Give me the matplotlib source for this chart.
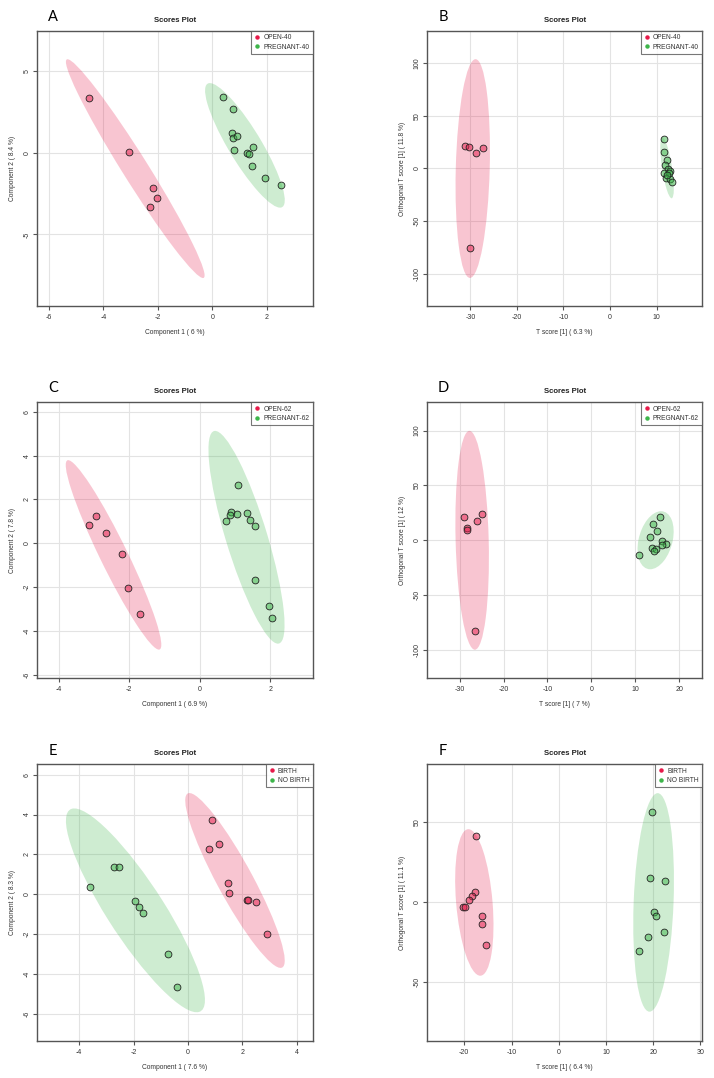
import numpy as np
import matplotlib
matplotlib.use("Agg")
import matplotlib.pyplot as plt
from matplotlib.patches import Ellipse
from matplotlib.lines import Line2D

plt.rcParams['font.family'] = ['Liberation Sans', 'DejaVu Sans']
plt.rcParams['axes.unicode_minus'] = False

# ---------------- data ----------------
# Panel A (PLS-DA, day 40)
a_open_x = [-4.55, -3.08, -2.20, -2.03, -2.31]
a_open_y = [3.34, 0.04, -2.18, -2.77, -3.32]
a_preg_x = [0.40, 0.76, 0.73, 0.75, 0.89, 0.80, 1.26, 1.33, 1.50, 1.44, 1.93, 2.51]
a_preg_y = [3.38, 2.67, 1.20, 0.92, 1.02, 0.16, -0.04, -0.06, 0.37, -0.79, -1.53, -1.98]
# Panel B (OPLS-DA, day 40)
b_open_x = [-31.2, -30.2, -28.7, -27.3, -30.0]
b_open_y = [21.2, 20.0, 14.9, 19.0, -76.1]
b_preg_x = [11.5, 11.5, 12.15, 11.8, 12.5, 12.9, 11.5, 12.65, 12.0, 12.85, 13.2, 12.3]
b_preg_y = [27.6, 15.5, 7.9, 3.5, -0.6, -2.25, -4.7, -4.15, -8.9, -10.1, -13.3, -6.6]
# Panel C (PLS-DA, day 62)
c_open_x = [-3.14, -2.94, -2.65, -2.22, -2.03, -1.71]
c_open_y = [0.85, 1.25, 0.47, -0.47, -2.05, -3.21]
c_preg_x = [1.08, 0.89, 0.86, 1.05, 0.74, 1.35, 1.43, 1.57, 1.57, 1.96, 2.05]
c_preg_y = [2.67, 1.41, 1.31, 1.32, 1.03, 1.40, 1.06, 0.81, -1.69, -2.86, -3.42]
# Panel D (OPLS-DA, day 62)
d_open_x = [-29.0, -28.2, -28.2, -26.0, -25.0, -26.4]
d_open_y = [20.7, 11.0, 9.1, 17.4, 23.4, -82.8]
d_preg_x = [15.5, 14.0, 15.0, 13.4, 16.0, 17.0, 16.1, 13.7, 14.7, 14.2, 10.8]
d_preg_y = [20.7, 14.6, 8.5, 3.0, -0.9, -3.7, -4.9, -7.0, -8.5, -9.7, -14.0]
# Panel E (PLS-DA, birth)
e_birth_x = [0.89, 1.13, 0.78, 1.45, 1.50, 2.18, 2.21, 2.48, 2.90]
e_birth_y = [3.75, 2.51, 2.26, 0.59, 0.05, -0.28, -0.28, -0.38, -1.97]
e_nob_x = [-3.62, -2.73, -2.52, -1.96, -1.81, -1.67, -0.74, -0.42]
e_nob_y = [0.37, 1.37, 1.37, -0.35, -0.62, -0.95, -2.99, -4.63]
# Panel F (OPLS-DA, birth)
f_birth_x = [-17.6, -17.7, -18.4, -18.9, -20.3, -19.9, -16.3, -16.3, -15.5]
f_birth_y = [41.7, 6.7, 4.0, 1.5, -2.7, -3.1, -8.3, -13.75, -26.9]
f_nob_x = [19.7, 19.4, 22.5, 20.1, 20.6, 22.3, 19.0, 17.1]
f_nob_y = [56.5, 15.0, 13.5, -6.25, -8.75, -18.5, -21.9, -30.2]

panel_letters = ["A", "B", "C", "D", "E", "F"]
group_labels = [["OPEN-40", "PREGNANT-40"], ["OPEN-40", "PREGNANT-40"],
                ["OPEN-62", "PREGNANT-62"], ["OPEN-62", "PREGNANT-62"],
                ["BIRTH", "NO BIRTH"], ["BIRTH", "NO BIRTH"]]
x_labels = ["Component 1 ( 6 %)", "T score [1] ( 6.3 %)",
            "Component 1 ( 6.9 %)", "T score [1] ( 7 %)",
            "Component 1 ( 7.6 %)", "T score [1] ( 6.4 %)"]
y_labels = ["Component 2 ( 8.4 %)", "Orthogonal T score [1] ( 11.8 %)",
            "Component 2 ( 7.8 %)", "Orthogonal T score [1] ( 12 %)",
            "Component 2 ( 8.3 %)", "Orthogonal T score [1] ( 11.1 %)"]
x_ticks = [[-6, -4, -2, 0, 2], [-30, -20, -10, 0, 10],
           [-4, -2, 0, 2], [-30, -20, -10, 0, 10, 20],
           [-4, -2, 0, 2, 4], [-20, -10, 0, 10, 20, 30]]
y_ticks = [[-5, 0, 5], [-100, -50, 0, 50, 100],
           [-6, -4, -2, 0, 2, 4, 6], [-100, -50, 0, 50, 100],
           [-6, -4, -2, 0, 2, 4, 6], [-50, 0, 50]]
x_lims = [(-6.43, 3.68), (-39.3, 19.8), (-4.61, 3.20), (-37.4, 25.2), (-5.54, 4.58), (-27.9, 30.4)]
y_lims = [(-9.37, 7.43), (-130.9, 130.6), (-6.14, 6.43), (-126, 125.8), (-7.34, 6.52), (-86.5, 86.25)]

groups = [
    [(a_open_x, a_open_y), (a_preg_x, a_preg_y)],
    [(b_open_x, b_open_y), (b_preg_x, b_preg_y)],
    [(c_open_x, c_open_y), (c_preg_x, c_preg_y)],
    [(d_open_x, d_open_y), (d_preg_x, d_preg_y)],
    [(e_birth_x, e_birth_y), (e_nob_x, e_nob_y)],
    [(f_birth_x, f_birth_y), (f_nob_x, f_nob_y)],
]

# ---------------- style ----------------
W, H = 714, 1078
RED = (0.90, 0.10, 0.29)
GREEN = (0.24, 0.71, 0.29)
cols = [RED, GREEN]

# axes boxes in pixels: left, top, right, bottom
boxes = [(37.3, 31, 312.7, 306), (427, 31, 702.3, 306),
         (37.3, 402.3, 312.7, 678), (427, 402.3, 702.3, 678),
         (37.3, 764.3, 312.7, 1040.7), (427, 764.3, 702.3, 1040.7)]
letter_pos = [(53, 17), (443, 17), (53, 388.3), (443, 388.3), (53, 750.7), (443, 750.7)]

fig = plt.figure(figsize=(W / 100, H / 100), dpi=100)


def conf_ellipse(x, y, color, ax, level=0.95):
    x = np.asarray(x, float)
    y = np.asarray(y, float)
    chi2 = -2.0 * np.log(1.0 - level)
    cov = np.cov(x, y)
    vals, vecs = np.linalg.eigh(cov)
    angle = np.degrees(np.arctan2(vecs[1, 1], vecs[0, 1]))
    w = 2 * np.sqrt(chi2 * vals[1])
    h = 2 * np.sqrt(chi2 * vals[0])
    e = Ellipse((x.mean(), y.mean()), w, h, angle=angle,
                facecolor=color, alpha=0.25, edgecolor='none', zorder=1)
    ax.add_patch(e)


for i in range(6):
    l, t, r, b = boxes[i]
    ax = fig.add_axes([l / W, 1 - b / H, (r - l) / W, (b - t) / H])
    aw, ah = r - l, b - t
    ax.set_xlim(*x_lims[i])
    ax.set_ylim(*y_lims[i])
    ax.set_xticks(x_ticks[i])
    ax.set_yticks(y_ticks[i])
    ax.grid(True, color='#e3e3e3', linewidth=0.8, zorder=0)
    ax.set_axisbelow(True)
    for (gx, gy), c in zip(groups[i], cols):
        conf_ellipse(gx, gy, c, ax)
    for (gx, gy), c in zip(groups[i], cols):
        ax.scatter(gx, gy, s=24, facecolor=(*c, 0.5), edgecolor='#222222',
                   linewidth=0.6, zorder=3)
    for sp in ax.spines.values():
        sp.set_color('#555555')
        sp.set_linewidth(1.0)
    ax.tick_params(axis='both', length=3, width=0.8, color='#555555',
                   labelsize=5.0, labelcolor='#333333', direction='out')
    ax.tick_params(axis='x', pad=2.8)
    ax.tick_params(axis='y', pad=1.8, labelrotation=90)
    for lab in ax.get_yticklabels():
        lab.set_va('center')
    ax.text(0.5, 1 + 11 / ah, "Scores Plot", transform=ax.transAxes,
            ha='center', va='center', fontsize=5.6, fontweight='bold', color='#222222')
    ax.text(0.5, -27 / ah, x_labels[i], transform=ax.transAxes,
            ha='center', va='center', fontsize=4.8, color='#333333')
    ax.text(-25 / aw, 0.5, y_labels[i], transform=ax.transAxes, rotation=90,
            ha='center', va='center', fontsize=4.8, color='#333333')
    handles = [Line2D([0], [0], marker='o', linestyle='none', markersize=2.2,
                      markerfacecolor=c, markeredgecolor=c) for c in cols]
    leg = ax.legend(handles, group_labels[i], loc='upper right',
                    bbox_to_anchor=(1.0, 1.0), fontsize=4.8, frameon=True,
                    fancybox=False, borderaxespad=0, handlelength=0.8,
                    handletextpad=0.5, borderpad=0.5, labelspacing=0.35,
                    labelcolor='#333333')
    leg.get_frame().set_edgecolor('#555555')
    leg.get_frame().set_linewidth(0.8)
    leg.set_zorder(5)
    lx, ly = letter_pos[i]
    fig.text(lx / W, 1 - ly / H, panel_letters[i], ha='center', va='center',
             fontsize=10.5, family=['Lato', 'DejaVu Sans'], color='black')

fig.savefig("out.png", dpi=100)
